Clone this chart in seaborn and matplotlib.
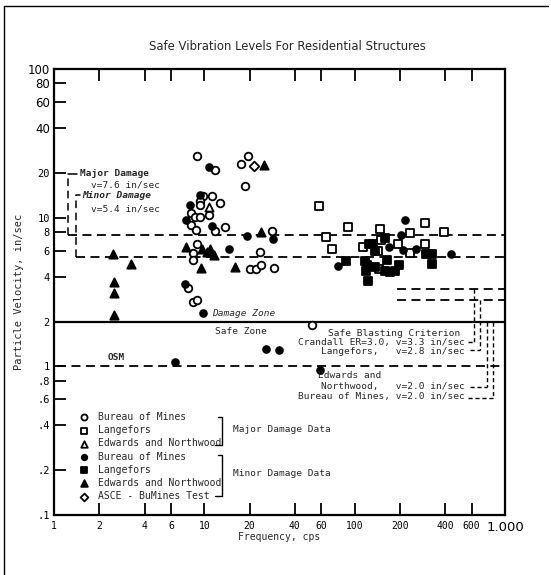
import numpy as np
import pandas as pd
import matplotlib
matplotlib.use("Agg")
import matplotlib.pyplot as plt
import matplotlib.transforms as mtransforms
from matplotlib.lines import Line2D
import seaborn as sns

# ---------------- data (frequency in cps, particle velocity in in/sec) ----------------
bom_major_f = [8.9, 19.5, 11.8, 17.5, 18.7, 9.8, 11.2, 9.4, 9.4, 12.7, 8.2, 8.7, 9.4, 10.8, 8.2,
               8.8, 11.7, 13.7, 28, 8.9, 8.4, 23.6, 8.4, 20, 22, 23.7, 29, 8.4, 8.9, 52, 7.8]
bom_major_v = [26, 26, 21, 23, 16.4, 14, 14, 13, 12.1, 12.5, 10.8, 10.1, 10.1, 10.5, 8.9,
               8.3, 8.1, 8.7, 8.1, 6.7, 5.8, 5.9, 5.2, 4.5, 4.5, 4.8, 4.6, 2.7, 2.8, 1.9, 3.35]

lang_major_f = [58, 90, 148, 294, 64, 234, 390, 149, 71, 113, 144, 194, 234, 294, 146]
lang_major_v = [12, 8.7, 8.4, 9.2, 7.4, 7.9, 8.0, 7.1, 6.2, 6.3, 6.0, 6.7, 5.8, 6.6, 4.5]

edw_major_f = [10.8]
edw_major_v = [11.8]

bom_minor_f = [10.8, 9.4, 8.0, 7.6, 11.2, 19.3, 28.8, 14.5, 9.8, 25.7, 31.5, 6.4, 59, 78,
               216, 203, 169, 211, 256, 436, 7.4]
bom_minor_v = [22, 14.3, 12.1, 9.7, 8.8, 7.5, 7.2, 6.2, 2.3, 1.3, 1.28, 1.07, 0.95, 4.7,
               9.7, 7.7, 6.3, 6.1, 6.2, 5.7, 3.6]

lang_minor_f = [88, 160, 125, 133, 137, 300, 326, 117, 120, 119, 137, 158, 164, 172, 186, 198, 326, 122]
lang_minor_v = [5.1, 7.3, 6.6, 6.7, 6.0, 5.7, 5.7, 5.1, 4.8, 4.4, 4.65, 4.4, 5.2, 4.3, 4.4, 4.8, 4.85, 3.75]

edw_minor_f = [2.47, 3.26, 2.5, 2.5, 2.5, 25, 24, 7.6, 9.7, 10.4, 10.9, 11.6, 9.5, 16]
edw_minor_v = [5.7, 4.85, 3.7, 3.1, 2.2, 22.6, 8.0, 6.3, 6.2, 5.9, 6.2, 5.6, 4.6, 4.65]

asce_f = [21.4]
asce_v = [22.4]

# criterion levels (in/sec)
major_damage_v = 7.6
minor_damage_v = 5.4
safe_zone_v = 2.0
osm_v = 1.0
crandall_v = 3.3
langefors_v = 2.8
edwards_v = 2.0
bom_v = 2.0

x_ticks = [1, 2, 4, 6, 10, 20, 40, 60, 100, 200, 400, 600, 1000]
x_ticklabels = ["1", "2", "4", "6", "10", "20", "40", "60", "100", "200", "400", "600", "1.000"]
y_ticks = [0.1, 0.2, 0.4, 0.6, 0.8, 1, 2, 4, 6, 8, 10, 20, 40, 60, 80, 100]
y_ticklabels = [".1", ".2", ".4", ".6", ".8", "1", "2", "4", "6", "8", "10", "20", "40", "60", "80", "100"]

# ---------------- style ----------------
sns.set_style("white")
plt.rcParams["font.family"] = ["DejaVu Sans Mono", "DejaVu Sans"]
MONO = ["DejaVu Sans Mono", "DejaVu Sans"]
SANS = ["DejaVu Sans"]

W, H = 551, 575
fig = plt.figure(figsize=(W / 100, H / 100), dpi=100)
fig.patch.set_facecolor("white")
L, R, T, B = 54, 505, 69, 515
ax = fig.add_axes([L / W, 1 - B / H, (R - L) / W, (B - T) / H])


def fx(px):
    return px / W


def fy(py):
    return 1 - py / H


def axx(px):
    return (px - L) / (R - L)


def axy(py):
    return (B - py) / (B - T)


# ---------------- scatter groups ----------------
groups = [
    (bom_major_f, bom_major_v, "o", "white", "Bureau of Mines", 30),
    (lang_major_f, lang_major_v, "s", "white", "Langefors", 26),
    (edw_major_f, edw_major_v, "^", "white", "Edwards and Northwood", 34),
    (bom_minor_f, bom_minor_v, "o", "black", "Bureau of Mines", 24),
    (lang_minor_f, lang_minor_v, "s", "black", "Langefors", 26),
    (edw_minor_f, edw_minor_v, "^", "black", "Edwards and Northwood", 36),
    (asce_f, asce_v, "D", "white", "ASCE - BuMines Test", 24),
]
for f, v, m, fc, lab, s in groups:
    df = pd.DataFrame({"f": f, "v": v})
    sns.scatterplot(data=df, x="f", y="v", marker=m, color=fc, edgecolor="black",
                    linewidth=1.3, s=s, ax=ax, label=lab, zorder=5)

ax.set_xscale("log")
ax.set_yscale("log")
ax.set_xlim(1, 1000)
ax.set_ylim(0.1, 100)
ax.xaxis.set_minor_locator(matplotlib.ticker.NullLocator())
ax.yaxis.set_minor_locator(matplotlib.ticker.NullLocator())
ax.set_xticks(x_ticks)
ax.set_xticklabels(x_ticklabels, family=MONO, fontsize=7)
ax.set_yticks(y_ticks)
ax.set_yticklabels(y_ticklabels, family=MONO, fontsize=7.5)
for lbl in ax.get_xticklabels():
    if lbl.get_text() == "1.000":
        lbl.set_fontsize(9.5)
        lbl.set_family(SANS)
        lbl.set_horizontalalignment("center")
        lbl.set_transform(lbl.get_transform() +
                          mtransforms.ScaledTranslation(6 / 100, 0, fig.dpi_scale_trans))
for lbl in ax.get_yticklabels():
    if lbl.get_text() in ("100", "80", "60", "40"):
        lbl.set_fontsize(8.5)
        lbl.set_family(SANS)
ax.tick_params(axis="x", which="major", direction="in", length=8.5, width=1.3,
               top=True, bottom=True, pad=4, colors="black")
ax.tick_params(axis="y", which="major", direction="in", length=8.5, width=1.3,
               left=True, right=False, pad=3, colors="black")
for sp in ax.spines.values():
    sp.set_linewidth(1.6)
    sp.set_color("black")

ax.set_xlabel("Frequency, cps", family=MONO, fontsize=7)
ax.xaxis.set_label_coords(0.5, axy(532))
ax.set_ylabel("Particle Velocity, in/sec", family=MONO, fontsize=7.5)
ax.yaxis.set_label_coords(axx(24), 0.5)
fig.text(fx(287), fy(47), "Safe Vibration Levels For Residential Structures",
         family=SANS, fontsize=8.4, ha="center", va="center")

# ---------------- criterion lines ----------------
dash = (0, (5, 3))
lw = 1.3
bt = mtransforms.blended_transform_factory(ax.transAxes, ax.transData)

# major / minor damage
ax.plot([axx(68), 1], [major_damage_v] * 2, transform=bt, color="black", lw=lw, ls=dash)
ax.plot([axx(68), axx(68)], [major_damage_v, 19.8], transform=bt, color="black", lw=1.1, ls=dash)
ax.plot([axx(68), axx(77)], [19.8, 19.8], transform=bt, color="black", lw=1.1)
ax.plot([axx(76), 1], [minor_damage_v] * 2, transform=bt, color="black", lw=lw, ls=dash)
ax.plot([axx(76), axx(76)], [minor_damage_v, 14.3], transform=bt, color="black", lw=1.1, ls=dash)
ax.plot([axx(76), axx(80)], [14.3, 14.3], transform=bt, color="black", lw=1.1)

# safe zone boundary and OSM
ax.plot([0, 1], [safe_zone_v] * 2, transform=bt, color="black", lw=1.6)
ax.plot([axx(57), 1], [osm_v] * 2, transform=bt, color="black", lw=lw, ls=dash)

# safe blasting criterion brackets
ax.plot([axx(397), 1], [crandall_v] * 2, transform=bt, color="black", lw=lw, ls=dash)
ax.plot([axx(397), 1], [langefors_v] * 2, transform=bt, color="black", lw=lw, ls=dash)
brackets = [(474, crandall_v, 1.45, 468), (480, langefors_v, 1.28, 470),
            (487, edwards_v, 0.725, 470), (493, bom_v, 0.616, 468)]
for xp, vtop, vbot, xh in brackets:
    ax.plot([axx(xp), axx(xp)], [vtop, vbot], transform=bt, color="black", lw=1.0, ls=(0, (3, 2)))
    ax.plot([axx(xh), axx(xp)], [vbot, vbot], transform=bt, color="black", lw=1.0, ls=(0, (3, 2)))

# ---------------- annotations ----------------
def t(px, py, s, ha="left", size=6.8, **kw):
    fig.text(fx(px), fy(py), s, ha=ha, va="center", family=MONO, fontsize=size, **kw)

t(80, 173, "Major Damage", weight="bold")
t(91, 185, "v=7.6 in/sec")
t(82, 196, "Minor Damage", weight="bold", style="italic")
t(91, 209, "v=5.4 in/sec")
t(212, 313, "Damage Zone", style="italic")
t(215, 332, "Safe Zone")
t(108, 358, "OSM", weight="bold")
t(394, 333, "Safe Blasting Criterion", ha="center")
t(465, 342, "Crandall ER=3.0, v=3.3 in/sec", ha="right")
t(465, 351, "Langefors,   v=2.8 in/sec", ha="right")
t(318, 375, "Edwards and")
t(465, 387, "Northwood,   v=2.0 in/sec", ha="right")
t(465, 397, "Bureau of Mines, v=2.0 in/sec", ha="right")
t(233, 430, "Major Damage Data")
t(233, 474, "Minor Damage Data")

# legend
h, l = ax.get_legend_handles_labels()
leg = ax.legend(h, l, loc="upper left", bbox_to_anchor=(fx(79), fy(412)),
                bbox_transform=fig.transFigure, frameon=False,
                prop={"family": MONO, "size": 7}, handlelength=1.0,
                handletextpad=1.0, labelspacing=0.33, borderpad=0,
                borderaxespad=0, scatterpoints=1, markerscale=0.8)

# legend brackets
def fl(xs, ys, **kw):
    fig.add_artist(Line2D([fx(x) for x in xs], [fy(y) for y in ys],
                          transform=fig.transFigure, color="black", lw=1.0, **kw))

fl([218, 222, 222, 215], [417, 417, 445, 445])
fl([218, 222, 222, 215], [455, 455, 496, 496])

# outer frame (scanned page border)
fl([4, 4], [6, 575])
fl([4, 548], [6, 6])

fig.savefig("out.png", dpi=100, facecolor="white")
